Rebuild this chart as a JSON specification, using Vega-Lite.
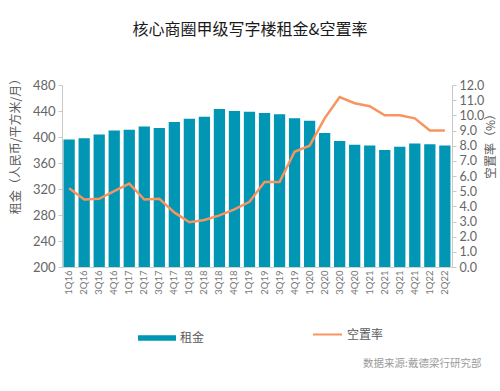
{
  "$schema": "https://vega.github.io/schema/vega-lite/v6.json",
  "autosize": {"type": "none"},
  "padding": {"left": 62, "top": 85, "right": 48, "bottom": 124},
  "width": 390,
  "height": 182,
  "background": "white",
  "title": {
    "text": "核心商圈甲级写字楼租金&空置率",
    "font": "Noto Sans CJK SC",
    "fontSize": 16,
    "fontWeight": "normal",
    "color": "#1a1a1a",
    "anchor": "middle",
    "dx": -7,
    "offset": 34
  },
  "config": {
    "view": {"stroke": null},
    "axis": {"grid": false, "labelFont": "Lato", "titleFont": "Noto Sans CJK SC"}
  },
  "data": {
    "values": [
      {"q": "1Q16", "rent": 396, "vac": 5.2},
      {"q": "2Q16", "rent": 398, "vac": 4.45},
      {"q": "3Q16", "rent": 404, "vac": 4.5},
      {"q": "4Q16", "rent": 410, "vac": 5.0},
      {"q": "1Q17", "rent": 411, "vac": 5.5},
      {"q": "2Q17", "rent": 416, "vac": 4.45},
      {"q": "3Q17", "rent": 414, "vac": 4.5},
      {"q": "4Q17", "rent": 423, "vac": 3.6},
      {"q": "1Q18", "rent": 428, "vac": 2.95},
      {"q": "2Q18", "rent": 431, "vac": 3.1},
      {"q": "3Q18", "rent": 443, "vac": 3.4},
      {"q": "4Q18", "rent": 440, "vac": 3.8},
      {"q": "1Q19", "rent": 439, "vac": 4.3},
      {"q": "2Q19", "rent": 437, "vac": 5.6},
      {"q": "3Q19", "rent": 435, "vac": 5.6},
      {"q": "4Q19", "rent": 429, "vac": 7.6},
      {"q": "1Q20", "rent": 425, "vac": 8.0},
      {"q": "2Q20", "rent": 406, "vac": 9.8},
      {"q": "3Q20", "rent": 394, "vac": 11.2},
      {"q": "4Q20", "rent": 388, "vac": 10.8},
      {"q": "1Q21", "rent": 387, "vac": 10.6},
      {"q": "2Q21", "rent": 380, "vac": 10.0},
      {"q": "3Q21", "rent": 385, "vac": 10.0},
      {"q": "4Q21", "rent": 390, "vac": 9.8},
      {"q": "1Q22", "rent": 389, "vac": 9.0},
      {"q": "2Q22", "rent": 387, "vac": 9.0}
    ]
  },
  "encoding": {
    "x": {
      "field": "q",
      "type": "ordinal",
      "sort": null,
      "scale": {"paddingInner": 0.25, "paddingOuter": 0.1},
      "axis": {
        "labelAngle": 270,
        "labelFontSize": 9.5,
        "labelColor": "#777777",
        "labelPadding": 3,
        "ticks": false,
        "domain": true,
        "domainColor": "#d0d0d0",
        "title": "数据来源:戴德梁行研究部",
        "titleFontSize": 10.5,
        "titleFontWeight": "normal",
        "titleColor": "#9a9a9a",
        "titleAlign": "right",
        "titleBaseline": "middle",
        "titleX": 419,
        "titleY": 96
      }
    }
  },
  "layer": [
    {
      "mark": {"type": "bar", "clip": true},
      "encoding": {
        "y": {
          "field": "rent",
          "type": "quantitative",
          "scale": {"domain": [200, 480], "zero": false, "nice": false},
          "axis": {
            "values": [200, 240, 280, 320, 360, 400, 440, 480],
            "labelFontSize": 13,
            "labelColor": "#666666",
            "domainColor": "#c8c8c8",
            "tickColor": "#c8c8c8",
            "tickSize": 4,
            "labelPadding": 3,
            "title": "租金（人民币/平方米/月）",
            "titleFontSize": 12,
            "titleFontWeight": "normal",
            "titleColor": "#595959",
            "titleAngle": 270,
            "titleX": -47,
            "titleY": 58,
            "titleAlign": "center",
            "titleBaseline": "middle"
          }
        },
        "color": {
          "datum": "租金",
          "scale": {"range": ["#0096B4"]},
          "legend": {
            "title": null,
            "orient": "none",
            "legendX": 76,
            "legendY": 234,
            "symbolType": "M-1,-0.15L1,-0.15L1,0.15L-1,0.15Z",
            "symbolSize": 1444,
            "symbolStrokeWidth": 0,
            "labelFontSize": 12,
            "labelColor": "#595959",
            "labelFont": "Noto Sans CJK SC",
            "labelOffset": 4
          }
        }
      }
    },
    {
      "mark": {"type": "line", "strokeWidth": 2.5},
      "encoding": {
        "y": {
          "field": "vac",
          "type": "quantitative",
          "scale": {"domain": [0, 12], "nice": false},
          "axis": {
            "orient": "right",
            "values": [0, 1, 2, 3, 4, 5, 6, 7, 8, 9, 10, 11, 12],
            "format": ".1f",
            "labelFontSize": 12.5,
            "labelColor": "#666666",
            "domainColor": "#c8c8c8",
            "tickColor": "#c8c8c8",
            "tickSize": 4,
            "labelPadding": 3,
            "title": "空置率（%）",
            "titleFontSize": 12,
            "titleFontWeight": "normal",
            "titleColor": "#595959",
            "titleAngle": 270,
            "titleX": 38,
            "titleY": 58,
            "titleAlign": "center",
            "titleBaseline": "middle"
          }
        },
        "stroke": {
          "datum": "空置率",
          "scale": {"range": ["#F79460"]},
          "legend": {
            "title": null,
            "orient": "none",
            "legendX": 250,
            "legendY": 234,
            "symbolType": "stroke",
            "symbolSize": 841,
            "symbolStrokeWidth": 2,
            "labelFontSize": 12,
            "labelColor": "#595959",
            "labelFont": "Noto Sans CJK SC",
            "labelOffset": 4
          }
        }
      }
    }
  ],
  "resolve": {"scale": {"y": "independent"}}
}
